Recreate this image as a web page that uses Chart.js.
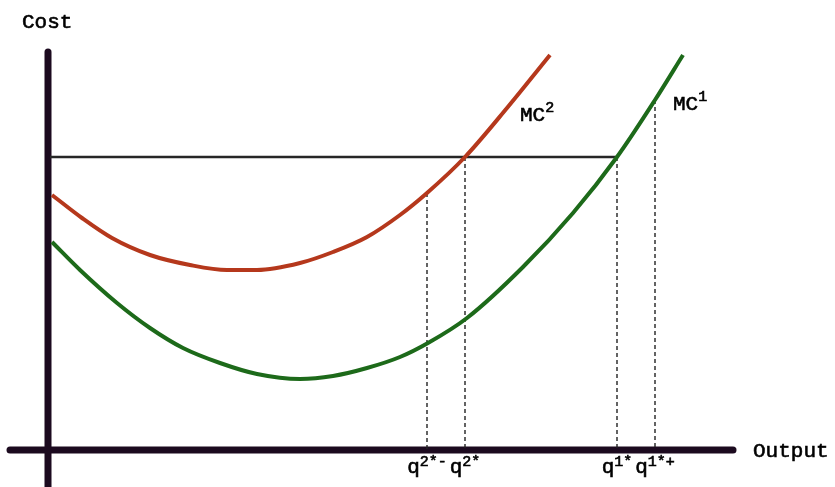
<!DOCTYPE html>
<html><head><meta charset="utf-8">
<script src="https://cdn.jsdelivr.net/npm/chart.js@4"></script>
<style>html,body{margin:0;padding:0;background:#fff;overflow:hidden}#wrap{width:835px;height:487px;position:relative}</style>
</head><body><div id="wrap"><canvas id="c"></canvas></div>
<script>
// Marginal cost curves (output, cost)
const mc2Output = [0.4, 3.4, 6.4, 10.2, 14.2, 17.9, 20.9, 25.2, 28.5, 31.9, 35.2, 37.9, 41.7, 45.9, 50.2];
const mc2Cost   = [25.5, 23.2, 21.2, 19.5, 18.5, 18.0, 18.0, 18.7, 19.8, 21.3, 23.5, 25.7, 29.3, 34.2, 39.5];
const mc1Output = [0.4, 3.2, 6.9, 10.2, 13.5, 17.2, 20.9, 25.2, 28.5, 31.9, 35.2, 38.0, 41.9, 47.5, 52.5, 56.9, 60.7, 63.5];
const mc1Cost   = [20.8, 18.0, 14.7, 12.2, 10.2, 8.7, 7.6, 7.1, 7.4, 8.2, 9.3, 10.7, 13.2, 18.3, 23.7, 29.3, 35.0, 39.5];
// Price line
const priceLevel = 29.3;
const priceRange = [0.2, 56.9];
// Output markers
const qValues   = [37.9, 41.7, 56.9, 60.7];
const qCosts    = [25.7, 29.3, 29.3, 35.0];
const qSups     = ['2*-', '2*', '1*', '1*+'];
// Curve labels
const curveNames = ['MC', 'MC'];
const curveSups  = ['2', '1'];
const curveLabelAt = [[47.2, 32.9], [62.5, 34.0]];
// Axes
const axisTitles = ['Cost', 'Output'];
const axisExtent = {xLeft: -3.8, xRight: 68.5, yTop: 39.8};

const FONT = '"Liberation Mono", "DejaVu Sans Mono", monospace';
const zip = (xs, ys) => xs.map((x, i) => ({x, y: ys[i]}));

const datasets = [
  {data: zip(mc2Output, mc2Cost), borderColor: '#b5381c', borderWidth: 4, cubicInterpolationMode: 'monotone'},
  {data: zip(mc1Output, mc1Cost), borderColor: '#1d6a1a', borderWidth: 4, cubicInterpolationMode: 'monotone'},
  {data: zip(priceRange, [priceLevel, priceLevel]), borderColor: '#262626', borderWidth: 2.5}
];
qValues.forEach((q, i) => datasets.push({
  data: [{x: q, y: qCosts[i]}, {x: q, y: 0}], borderColor: '#222', borderWidth: 1.4, borderDash: [4, 3]
}));
datasets.forEach(d => { d.pointRadius = 0; d.fill = false; });

function txt(ctx, s, x, y) {
  ctx.fillText(s, x, y);
  ctx.strokeText(s, x, y);
}

function supText(ctx, base, sup, x, y, align, baseSize, supSize, rise) {
  ctx.font = baseSize + 'px ' + FONT;
  const bw = ctx.measureText(base).width;
  ctx.font = supSize + 'px ' + FONT;
  const sw = ctx.measureText(sup).width;
  let x0 = x;
  if (align === 'center') x0 = x - (bw + sw) / 2;
  ctx.textAlign = 'left';
  ctx.textBaseline = 'alphabetic';
  ctx.font = baseSize + 'px ' + FONT;
  txt(ctx, base, x0, y);
  ctx.font = supSize + 'px ' + FONT;
  txt(ctx, sup, x0 + bw, y - rise);
}

const econPlugin = {
  id: 'econ',
  beforeDatasetsDraw(chart) {
    const {ctx, scales: {x, y}} = chart;
    ctx.save();
    ctx.strokeStyle = '#1c0a1f';
    ctx.lineWidth = 7;
    ctx.lineCap = 'round';
    ctx.beginPath();
    ctx.moveTo(x.getPixelForValue(0), y.getPixelForValue(axisExtent.yTop));
    ctx.lineTo(x.getPixelForValue(0), chart.height + 10);
    ctx.stroke();
    ctx.beginPath();
    ctx.moveTo(x.getPixelForValue(axisExtent.xLeft), y.getPixelForValue(0));
    ctx.lineTo(x.getPixelForValue(axisExtent.xRight), y.getPixelForValue(0));
    ctx.stroke();
    ctx.restore();
  },
  afterDatasetsDraw(chart) {
    const {ctx, scales: {x, y}} = chart;
    ctx.save();
    ctx.fillStyle = '#000';
    ctx.strokeStyle = '#000';
    ctx.lineWidth = 0.6;
    ctx.font = '21px ' + FONT;
    ctx.textAlign = 'left';
    ctx.textBaseline = 'alphabetic';
    txt(ctx, axisTitles[0], x.getPixelForValue(0) - 26, 28);
    txt(ctx, axisTitles[1], x.getPixelForValue(axisExtent.xRight) + 20, y.getPixelForValue(0) + 7);
    qValues.forEach((q, i) => {
      supText(ctx, 'q', qSups[i], x.getPixelForValue(q), y.getPixelForValue(0) + 23, 'center', 21, 15, 7);
    });
    curveNames.forEach((n, i) => {
      supText(ctx, n, curveSups[i], x.getPixelForValue(curveLabelAt[i][0]), y.getPixelForValue(curveLabelAt[i][1]), 'left', 21, 15, 9);
    });
    ctx.restore();
  }
};

new Chart(document.getElementById('c'), {
  type: 'line',
  data: {datasets},
  options: {
    animation: false,
    responsive: true,
    maintainAspectRatio: false,
    layout: {padding: 0},
    plugins: {legend: {display: false}, tooltip: {enabled: false}},
    scales: {
      x: {type: 'linear', min: -4.8, max: 78.7, display: false},
      y: {type: 'linear', min: -3.7, max: 45, display: false}
    }
  },
  plugins: [econPlugin]
});
</script>
</body></html>
